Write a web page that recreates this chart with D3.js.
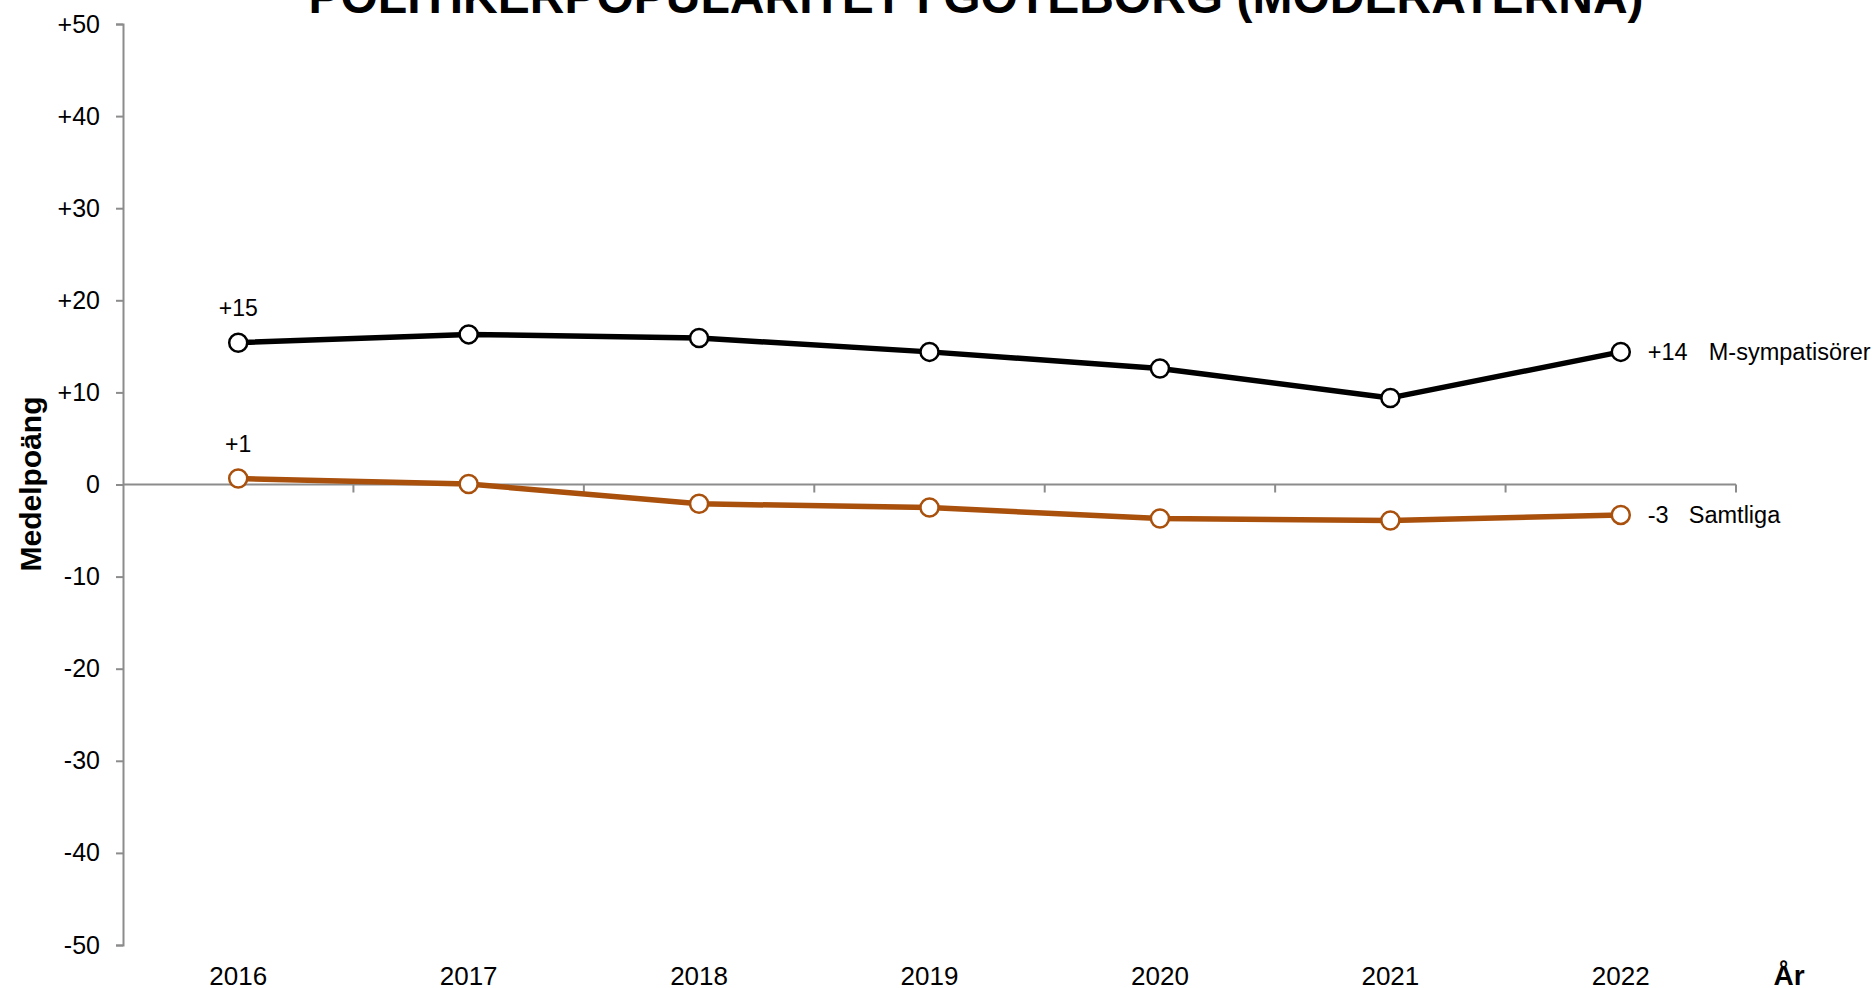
<!DOCTYPE html>
<html>
<head>
<meta charset="utf-8">
<script src="https://cdn.jsdelivr.net/npm/d3@7"></script>
<style>
html,body{margin:0;padding:0;background:#fff;}
svg{display:block;font-family:"Liberation Sans",Arial,sans-serif;}
</style>
</head>
<body>
<svg id="chart" width="1876" height="988"></svg>
<script>
const years = ["2016","2017","2018","2019","2020","2021","2022"];
const mSympatisorer = [15.4, 16.3, 15.9, 14.4, 12.6, 9.4, 14.4];
const samtliga = [0.65, 0.05, -2.1, -2.5, -3.7, -3.9, -3.3];
const yTicks = [50, 40, 30, 20, 10, 0, -10, -20, -30, -40, -50];
const seriesNames = ["M-sympatisörer", "Samtliga"];
const seriesColors = ["#000000", "#a9500c"];
const title = "POLITIKERPOPULARITET I GÖTEBORG (MODERATERNA)";

const svg = d3.select("#chart");
const axisColor = "#8c8c8c";

const x = d3.scaleBand().domain(years).range([123, 1736]).paddingInner(0).paddingOuter(0);
const y = d3.scaleLinear().domain([-50, 50]).range([945, 24]);
const cx = d => x(d) + x.bandwidth() / 2;
const fmt = v => { const r = Math.round(v); return r > 0 ? "+" + r : String(r); };

// title
svg.append("text").attr("x", 976).attr("y", 13).attr("text-anchor", "middle")
  .attr("font-size", 48).attr("font-weight", "bold").attr("fill", "#000").text(title);

// y axis
const yAxis = d3.axisLeft(y).tickValues(yTicks).tickSize(7).tickPadding(16)
  .tickFormat(d => d > 0 ? "+" + d : String(d));
const gy = svg.append("g").attr("transform", "translate(123,0)").call(yAxis);
gy.select(".domain").attr("stroke", axisColor).attr("stroke-width", 2);
gy.selectAll(".tick line").attr("stroke", axisColor).attr("stroke-width", 2);
gy.selectAll(".tick text").attr("font-size", 25).attr("fill", "#000")
  .attr("font-family", "Liberation Sans, Arial, sans-serif");

// x axis at zero: band boundaries as ticks
const gx = svg.append("g");
gx.append("line").attr("x1", 123).attr("x2", 1736).attr("y1", y(0)).attr("y2", y(0))
  .attr("stroke", axisColor).attr("stroke-width", 2);
const bounds = years.map(d => x(d) + x.bandwidth());
gx.selectAll("line.tk").data(bounds).join("line").attr("class", "tk")
  .attr("x1", d => d).attr("x2", d => d).attr("y1", y(0)).attr("y2", y(0) + 8)
  .attr("stroke", axisColor).attr("stroke-width", 2);

// year labels
svg.append("g").selectAll("text").data(years).join("text")
  .attr("x", d => cx(d)).attr("y", 985).attr("text-anchor", "middle")
  .attr("font-size", 26).attr("fill", "#000").text(d => d);

svg.append("text").attr("x", 1789).attr("y", 985).attr("text-anchor", "middle")
  .attr("font-size", 28).attr("font-weight", "bold").attr("fill", "#000").text("År");

// y title
svg.append("text").attr("transform", "translate(41,484) rotate(-90)").attr("text-anchor", "middle")
  .attr("font-size", 30).attr("font-weight", "bold").attr("fill", "#000").text("Medelpoäng");

// series
const series = [mSympatisorer, samtliga];
const line = d3.line().x((d, i) => cx(years[i])).y(d => y(d));
series.forEach((vals, si) => {
  const col = seriesColors[si];
  svg.append("path").datum(vals).attr("d", line).attr("fill", "none")
    .attr("stroke", col).attr("stroke-width", 5.5).attr("stroke-linejoin", "round");
  svg.append("g").selectAll("circle").data(vals).join("circle")
    .attr("cx", (d, i) => cx(years[i])).attr("cy", d => y(d)).attr("r", 9)
    .attr("fill", "#fff").attr("stroke", col).attr("stroke-width", 2.5);
  // first value label
  svg.append("text").attr("x", cx(years[0])).attr("y", y(vals[0]) - 27)
    .attr("text-anchor", "middle").attr("font-size", 23).attr("fill", "#000").text(fmt(vals[0]));
  // last value + name
  const last = vals[vals.length - 1];
  const lx = cx(years[years.length - 1]) + 27;
  svg.append("text").attr("x", lx).attr("y", y(last) + 8).attr("font-size", 23.5)
    .attr("fill", "#000").text(fmt(last));
  svg.append("text").attr("x", lx + (si === 0 ? 61 : 41)).attr("y", y(last) + 8).attr("font-size", 23.5)
    .attr("fill", "#000").text(seriesNames[si]);
});
</script>
</body>
</html>
